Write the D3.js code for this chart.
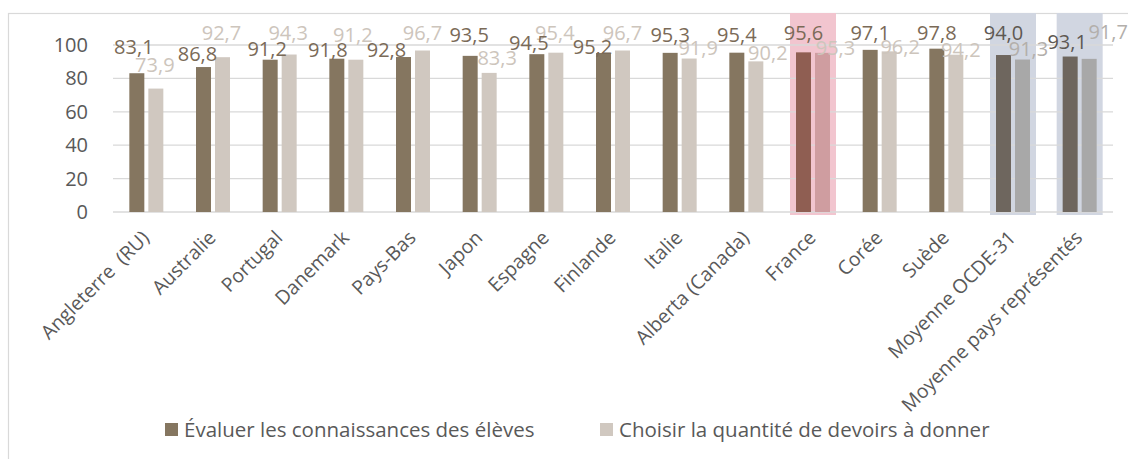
<!DOCTYPE html>
<html>
<head>
<meta charset="utf-8">
<script src="https://cdn.jsdelivr.net/npm/d3@7"></script>
<style>
  html, body { margin: 0; padding: 0; background: #ffffff; }
  svg { display: block; font-family: "Open Sans", "Noto Sans", sans-serif; }
</style>
</head>
<body>
<svg id="chart" width="1128" height="459"></svg>
<script>
// ---------- Data ----------
const categories = ["Angleterre  (RU)", "Australie", "Portugal", "Danemark", "Pays-Bas", "Japon", "Espagne", "Finlande", "Italie", "Alberta (Canada)", "France", "Corée", "Suède", "Moyenne OCDE-31", "Moyenne pays représentés"];
const evaluer = [83.1, 86.8, 91.2, 91.8, 92.8, 93.5, 94.5, 95.2, 95.3, 95.4, 95.6, 97.1, 97.8, 94.0, 93.1];
const devoirs = [73.9, 92.7, 94.3, 91.2, 96.7, 83.3, 95.4, 96.7, 91.9, 90.2, 95.3, 96.2, 94.2, 91.3, 91.7];
const seriesNames = ["Évaluer les connaissances des élèves", "Choisir la quantité de devoirs à donner"];
const yTicks = [0, 20, 40, 60, 80, 100];
const highlightCats = ["France", "Moyenne OCDE-31", "Moyenne pays représentés"];
const highlightKinds = ["pink", "blue", "blue"];
// label anchors (in value units, hand-placed labels of the original)
const evaluerLabelAt = [98.8, 94.6, 97.6, 97.0, 97.0, 106.0, 101.5, 98.8, 106.3, 106.3, 107.4, 107.5, 107.5, 107.5, 101.8];
const devoirsLabelAt = [88.3, 107.2, 107.2, 106.0, 107.5, 92.5, 107.2, 107.5, 98.5, 95.5, 98.5, 98.8, 97.3, 97.6, 108.1];
const evaluerLabelNudge = [-3, -6, -3, -9, -17, -1, -8, -11, 0, 0, 0, 0, 0, 0, -3];
const devoirsLabelNudge = [-1, -1, -1, -3, 0, 8, -1, 0, 9, 12, 13, 11, 5, 6, 19];

// ---------- Styles ----------
const colors = {
  dark: "#857660", light: "#d0c8c0",
  pinkDark: "#8f5e52", pinkLight: "#cf9da0",
  blueDark: "#6e665e", blueLight: "#a8a8a8",
  pinkBg: "#f2c5cf", blueBg: "#d1d6e1",
  darkLabel: "#7a6a57", lightLabel: "#cdc5bc",
  blueDarkLabel: "#5e5852", blueLightLabel: "#b3afab",
  text: "#595959", grid: "#d9d9d9"
};

const svg = d3.select("#chart");

// chart border (only left & top visible within the crop)
svg.append("rect")
  .attr("x", 8.5).attr("y", 13.5)
  .attr("width", 1300).attr("height", 600)
  .attr("fill", "none").attr("stroke", colors.grid).attr("stroke-width", 1.2);

const plot = { left: 113, right: 1113, top: 45, bottom: 212 };

const x = d3.scaleBand().domain(categories).range([plot.left, plot.right]).paddingInner(0).paddingOuter(0);
const y = d3.scaleLinear().domain([0, 100]).range([plot.bottom, plot.top]);

const barW = 15, gap = 4;
const cx = c => x(c) + x.bandwidth() / 2;
const kindOf = c => { const i = highlightCats.indexOf(c); return i < 0 ? null : highlightKinds[i]; };

// highlight boxes
svg.append("g").selectAll("rect")
  .data(highlightCats)
  .join("rect")
  .attr("x", c => cx(c) - 23)
  .attr("y", 13)
  .attr("width", 46)
  .attr("height", plot.bottom + 3 - 13)
  .attr("fill", (c, i) => highlightKinds[i] === "pink" ? colors.pinkBg : colors.blueBg);

// gridlines
svg.append("g").selectAll("line")
  .data(yTicks)
  .join("line")
  .attr("x1", plot.left).attr("x2", plot.right)
  .attr("y1", d => y(d)).attr("y2", d => y(d))
  .attr("stroke", colors.grid).attr("stroke-width", 1.3);

// y axis labels
const yAxis = d3.axisLeft(y).tickValues(yTicks).tickSize(0).tickPadding(25).tickFormat(d3.format("d"));
const yg = svg.append("g").attr("transform", `translate(${plot.left},0)`).call(yAxis);
yg.select(".domain").remove();
yg.selectAll("text").attr("fill", colors.text).style("font-size", "20px").style("font-family", '"Open Sans", sans-serif');

// bars
const rows = categories.map((c, i) => ({ c, i, a: evaluer[i], b: devoirs[i], k: kindOf(c) }));
const barsG = svg.append("g");
barsG.selectAll("rect.a").data(rows).join("rect").attr("class", "a")
  .attr("x", d => cx(d.c) - gap / 2 - barW)
  .attr("y", d => y(d.a)).attr("width", barW).attr("height", d => y(0) - y(d.a))
  .attr("fill", d => d.k === "pink" ? colors.pinkDark : d.k === "blue" ? colors.blueDark : colors.dark);
barsG.selectAll("rect.b").data(rows).join("rect").attr("class", "b")
  .attr("x", d => cx(d.c) + gap / 2)
  .attr("y", d => y(d.b)).attr("width", barW).attr("height", d => y(0) - y(d.b))
  .attr("fill", d => d.k === "pink" ? colors.pinkLight : d.k === "blue" ? colors.blueLight : colors.light);

// data labels
const fmt = v => d3.format(".1f")(v).replace(".", ",");
const labG = svg.append("g").style("font-size", "20px");
labG.selectAll("text.lb").data(rows).join("text").attr("class", "lb")
  .attr("x", d => cx(d.c) + gap / 2 + barW / 2 + devoirsLabelNudge[d.i])
  .attr("y", d => y(devoirsLabelAt[d.i])).attr("dy", "0.36em")
  .attr("text-anchor", "middle")
  .attr("fill", d => d.k === "blue" ? colors.blueLightLabel : colors.lightLabel)
  .text(d => fmt(d.b));
labG.selectAll("text.la").data(rows).join("text").attr("class", "la")
  .attr("x", d => cx(d.c) - gap / 2 - barW / 2 + evaluerLabelNudge[d.i])
  .attr("y", d => y(evaluerLabelAt[d.i])).attr("dy", "0.36em")
  .attr("text-anchor", "middle")
  .attr("fill", d => d.k === "blue" ? colors.blueDarkLabel : colors.darkLabel)
  .text(d => fmt(d.a));

// x axis labels (rotated)
svg.append("g").selectAll("text")
  .data(categories)
  .join("text")
  .attr("transform", c => `translate(${cx(c) + 4},${plot.bottom + 27}) rotate(-45)`)
  .attr("text-anchor", "end")
  .attr("fill", colors.text)
  .style("font-size", "19.5px")
  .style("white-space", "pre")
  .text(c => c);

// legend
const legend = svg.append("g");
const legItems = [
  { name: seriesNames[0], color: colors.dark, x: 165 },
  { name: seriesNames[1], color: colors.light, x: 600 }
];
legItems.forEach(it => {
  legend.append("rect").attr("x", it.x).attr("y", 423).attr("width", 13).attr("height", 13).attr("fill", it.color);
  legend.append("text").attr("x", it.x + 19).attr("y", 437)
    .attr("fill", colors.text).style("font-size", "20.5px").text(it.name);
});
</script>
</body>
</html>
